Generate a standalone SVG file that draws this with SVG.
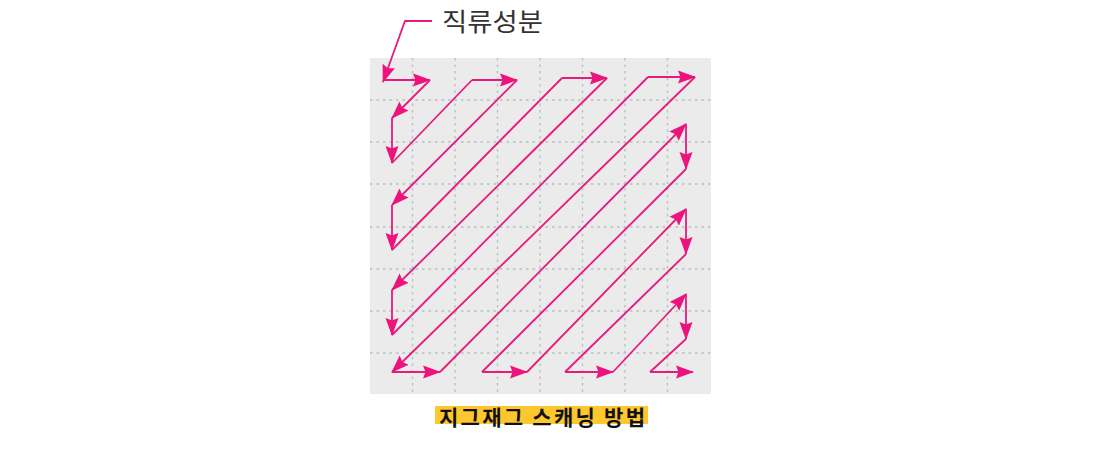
<svg xmlns="http://www.w3.org/2000/svg" width="1108" height="449" viewBox="0 0 1108 449">
<style>
.grid{stroke:#b4c2c0;stroke-width:1.4;stroke-dasharray:2.5 4;fill:none}
.a{stroke:#e91a7d;stroke-width:1.8;fill:none;marker-end:url(#ah)}
.n{stroke:#e91a7d;stroke-width:1.8;fill:none}
.lbl{font-family:"Noto Sans CJK KR","Noto Sans",sans-serif;fill:#333}
.cap{font-family:"Noto Sans CJK KR","Noto Sans",sans-serif;font-weight:bold;fill:#111}
</style>
<defs>
<marker id="ah" markerUnits="userSpaceOnUse" markerWidth="18" markerHeight="14" viewBox="0 0 18 14" refX="17" refY="7" orient="auto">
<path d="M0,0.5 L18,7 L0,13.5 L2.5,7 z" fill="#ec137c"/>
</marker>
</defs>
<rect x="370" y="58" width="341" height="336" fill="#ebebeb"/>
<g id="grid">
<path class="grid" d="M412.5,58V394M455,58V394M497.5,58V394M540,58V394M582.5,58V394M625,58V394M667.5,58V394"/>
<path class="grid" d="M370,100H711M370,142H711M370,184H711M370,227H711M370,269H711M370,311H711M370,353H711"/>
</g>
<g id="label">
<text class="lbl" x="442" y="31" font-size="25" textLength="101" lengthAdjust="spacingAndGlyphs">직류성분</text>
</g>
<g id="caption">
<rect x="435" y="406" width="213" height="18" fill="#fdc72d"/>
<text class="cap" x="439" y="424.5" font-size="21" textLength="206" lengthAdjust="spacing">지그재그 스캐닝 방법</text>
</g>
<g id="connectors">
<path class="a" d="M432,21H405L383,82"/>
<path class="a" d="M383,80H430"/>
<path class="a" d="M430,80L392,118"/>
<path class="a" d="M392,118V163"/>
<path class="n" d="M392,163L472,80"/>
<path class="a" d="M472,80H517"/>
<path class="a" d="M517,80L392,205"/>
<path class="a" d="M392,205V250"/>
<path class="n" d="M392,250L562,78"/>
<path class="a" d="M562,78H607"/>
<path class="a" d="M607,78L392,290"/>
<path class="a" d="M392,290V335"/>
<path class="n" d="M392,335L648,77"/>
<path class="a" d="M648,77H695"/>
<path class="a" d="M695,77L392,372"/>
<path class="a" d="M392,372H440"/>
<path class="a" d="M440,372L686,124"/>
<path class="a" d="M686,124V169"/>
<path class="n" d="M686,169L482,372"/>
<path class="a" d="M482,372H527"/>
<path class="a" d="M527,372L686,209"/>
<path class="a" d="M686,209V254"/>
<path class="n" d="M686,254L565,372"/>
<path class="a" d="M565,372H613"/>
<path class="a" d="M613,372L686,294"/>
<path class="a" d="M686,294V339"/>
<path class="n" d="M686,339L650,372"/>
<path class="a" d="M650,372H693"/>
</g>
</svg>
